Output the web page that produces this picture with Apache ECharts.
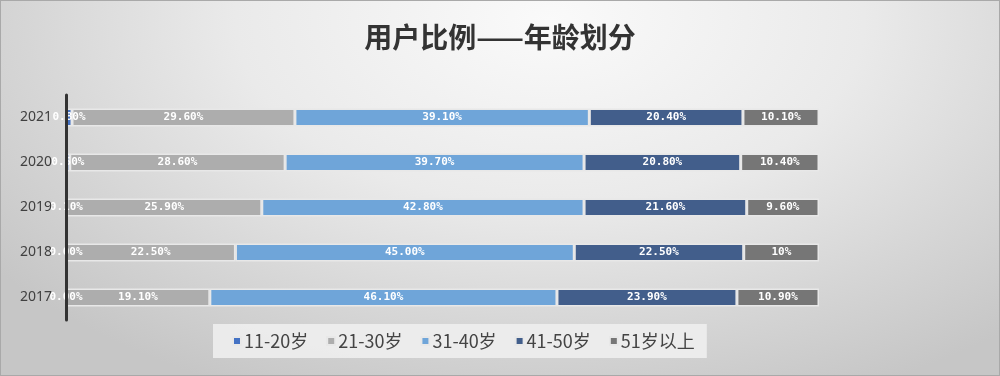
<!DOCTYPE html>
<html>
<head>
<meta charset="utf-8">
<script src="https://cdn.jsdelivr.net/npm/echarts@6/dist/echarts.min.js"></script>
<style>
html,body{margin:0;padding:0;width:1000px;height:376px;overflow:hidden;}
#wrap{width:998px;height:374px;border:1px solid #a9a9a9;
background:radial-gradient(ellipse 70% 110% at 55% 5%, #fafafa 0%, #eaeaea 45%, #d6d6d6 75%, #c6c6c6 100%);}
#chart{width:998px;height:374px;}
</style>
</head>
<body>
<div id="wrap"><div id="chart"></div></div>
<script>
// Data (bottom to top)
const years = ['2017', '2018', '2019', '2020', '2021'];
const seriesNames = ['11-20岁', '21-30岁', '31-40岁', '41-50岁', '51岁以上'];
const age11_20 = ['0.00', '0.00', '0.10', '0.50', '0.80'];
const age21_30 = ['19.10', '22.50', '25.90', '28.60', '29.60'];
const age31_40 = ['46.10', '45.00', '42.80', '39.70', '39.10'];
const age41_50 = ['23.90', '22.50', '21.60', '20.80', '20.40'];
const age51up = ['10.90', '10', '9.60', '10.40', '10.10'];
const titleText = '用户比例——年龄划分';

const colors = ['#4472c4', '#adadad', '#6fa5d9', '#425e8b', '#767676'];
const allData = [age11_20, age21_30, age31_40, age41_50, age51up];

const chart = echarts.init(document.getElementById('chart'));
chart.setOption({
  animation: false,
  title: {
    text: titleText, left: 'center', top: 17,
    textStyle: {fontSize: 28, fontWeight: 'bold', color: '#333', fontFamily: 'Noto Sans CJK SC'}
  },
  legend: {
    data: seriesNames, left: 212, top: 323,
    backgroundColor: 'rgba(238,238,238,0.9)', padding: [8, 12, 8, 19],
    icon: 'rect', itemWidth: 8, itemHeight: 8, itemGap: 18,
    textStyle: {fontSize: 18, color: '#444', fontFamily: 'Noto Sans CJK SC', padding: [0, 0, 0, -2]}
  },
  grid: {left: 65, right: 180, top: 94, bottom: 55, containLabel: false},
  xAxis: {type: 'value', min: 0, max: 100, show: false},
  yAxis: {
    type: 'category', data: years, z: 10,
    axisLine: {show: true, lineStyle: {color: '#333', width: 3}},
    axisTick: {show: false},
    axisLabel: {fontSize: 14, color: '#404040', margin: 14, fontFamily: 'Noto Sans'}
  },
  series: seriesNames.map((n, i) => ({
    name: n, type: 'bar', stack: 'total', barWidth: 18,
    itemStyle: {color: colors[i], borderColor: '#e8e8e8', borderWidth: 1.5},
    label: {
      show: true, position: 'inside', color: '#fff', fontSize: 11, fontWeight: 'bold',
      fontFamily: 'DejaVu Sans Mono',
      formatter: p => allData[i][p.dataIndex] + '%'
    },
    data: allData[i].map(Number)
  }))
});
</script>
</body>
</html>
